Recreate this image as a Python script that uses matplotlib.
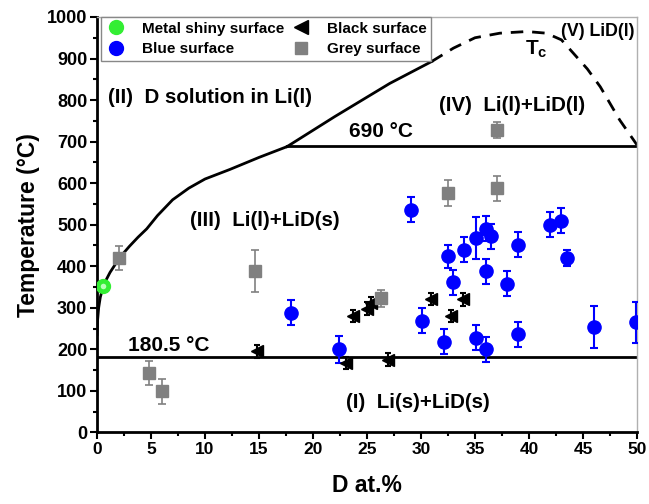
import numpy as np
import matplotlib.pyplot as plt
from matplotlib.ticker import MultipleLocator
from matplotlib.lines import Line2D

plt.rcParams['font.family'] = ['Liberation Sans', 'DejaVu Sans']
plt.rcParams['font.weight'] = 'bold'
plt.rcParams['axes.labelweight'] = 'bold'

# phase boundary: lower liquidus (solid)
liq_x = [0.0, 0.05, 0.15, 0.3, 0.5, 0.8, 1.2, 1.7, 2.3, 3.0, 3.8, 4.6, 5.6,
         7.0, 8.5, 10.0, 12.3, 15.0, 17.6]
liq_t = [235, 270, 300, 325, 345, 365, 385, 405, 427, 448, 470, 490, 522,
         560, 588, 610, 633, 662, 688]
# miscibility gap, solid part
gap_x = [17.6, 22.0, 27.1, 31.0]
gap_t = [688, 760, 840, 893]
# miscibility gap, dashed part
dash_x = [31.0, 33.0, 35.0, 37.3, 39.8, 41.6, 43.0, 44.1, 45.4, 46.6, 48.4, 50.0]
dash_t = [893, 925, 950, 961, 965, 961, 945, 913, 875, 832, 752, 692]

eutectic_t = 180.5
monotectic_t = 690
monotectic_x0 = 17.6

# samples
green_x = [0.55]
green_t = [352]

blue_x = [18.0, 22.4, 29.1, 30.1, 32.1, 32.5, 33.0, 34.0, 35.1, 35.1, 36.0,
          36.0, 36.0, 36.5, 38.0, 39.0, 39.0, 41.9, 43.0, 43.5, 46.0, 49.9]
blue_t = [288, 200, 536, 269, 218, 424, 361, 440, 468, 228, 490,
          388, 200, 472, 358, 452, 236, 500, 510, 420, 254, 265]
blue_err = [30, 32, 30, 30, 30, 28, 30, 30, 50, 30, 30,
            30, 30, 30, 30, 30, 30, 30, 30, 20, 50, 50]

black_x = [14.8, 23.1, 23.7, 25.0, 25.4, 26.9, 30.9, 32.8, 33.9]
black_t = [195, 167, 280, 298, 312, 175, 321, 280, 320]
black_err = [15, 15, 15, 15, 15, 15, 15, 15, 15]

grey_x = [2.0, 4.8, 6.0, 14.6, 26.3, 32.5, 37.0, 37.0]
grey_t = [419, 142, 99, 389, 323, 577, 728, 588]
grey_err = [29, 29, 30, 50, 20, 31, 20, 30]

xticks = list(range(0, 51, 5))
yticks = list(range(0, 1001, 100))

fig = plt.figure(figsize=(6.49, 5.04), dpi=100)
ax = fig.add_axes([0.1495, 0.1420, 0.8320, 0.8243])

ax.plot(liq_x, liq_t, color='black', lw=2)
ax.plot(gap_x, gap_t, color='black', lw=2)
ax.plot(dash_x, dash_t, color='black', lw=2, dashes=(4.5, 3.2))
ax.plot([0, 50], [eutectic_t, eutectic_t], color='black', lw=2)
ax.plot([monotectic_x0, 50], [monotectic_t, monotectic_t], color='black', lw=2)

ax.plot(green_x, green_t, 'o', ms=10, color='#33ee33', zorder=5)
ax.plot(green_x, green_t, 'o', ms=4, color='#b8ffb8', mec='none', zorder=6)
ax.errorbar(blue_x, blue_t, yerr=blue_err, fmt='o', ms=9.5, color='blue',
            ecolor='blue', elinewidth=1.5, capsize=3, capthick=1.5, zorder=4)
ax.errorbar(black_x, black_t, yerr=black_err, fmt='<', ms=9, color='black',
            ecolor='black', elinewidth=1.5, capsize=2.5, capthick=1.5, zorder=4)
ax.errorbar(grey_x, grey_t, yerr=grey_err, fmt='s', ms=8, color='#808080',
            ecolor='#808080', elinewidth=1.2, capsize=3, capthick=1.2, zorder=4)

# region labels
ax.text(1.0, 805, '(II)  D solution in Li(l)', fontsize=14.8, va='center')
ax.text(8.6, 511, '(III)  Li(l)+LiD(s)', fontsize=14.8, va='center')
ax.text(31.7, 786, '(IV)  Li(l)+LiD(l)', fontsize=14.8, va='center')
ax.text(43.0, 966, '(V) LiD(l)', fontsize=12.8, va='center')
ax.text(23.1, 73, '(I)  Li(s)+LiD(s)', fontsize=14.8, va='center')
ax.text(39.6, 922, r'T$_\mathregular{c}$', fontsize=15, va='center')
ax.text(23.3, 702, '690 °C', fontsize=15, va='bottom')
ax.text(2.9, 186, '180.5 °C', fontsize=15, va='bottom')

ax.set_xlim(0, 50)
ax.set_ylim(0, 1000)
ax.set_xticks(xticks)
ax.set_xticklabels([str(v) for v in xticks], fontweight='bold', fontsize=12.5)
ax.set_yticks(yticks)
ax.set_yticklabels([str(v) for v in yticks], fontweight='bold', fontsize=13)
ax.xaxis.set_minor_locator(MultipleLocator(2.5))
ax.yaxis.set_minor_locator(MultipleLocator(50))
ax.tick_params(which='major', direction='out', length=5, width=1.5, pad=2)
ax.tick_params(which='minor', direction='out', length=3, width=1.5)

for s in ['left', 'bottom']:
    ax.spines[s].set_linewidth(2)
    ax.spines[s].set_color('black')
for s in ['top', 'right']:
    ax.spines[s].set_linewidth(1)
    ax.spines[s].set_color('#b0b0b0')

ax.set_xlabel('D at.%', fontsize=16.5, labelpad=12)
ax.set_ylabel('Temperature (°C)', fontsize=16.5, labelpad=5)

handles = [
    Line2D([], [], ls='none', marker='o', ms=10, color='#33ee33'),
    Line2D([], [], ls='none', marker='o', ms=10, color='blue'),
    Line2D([], [], ls='none', marker='<', ms=10, color='black'),
    Line2D([], [], ls='none', marker='s', ms=8, color='#808080'),
]
labels = ['Metal shiny surface', 'Blue surface', 'Black surface', 'Grey surface']
leg = ax.legend(handles, labels, ncol=2, loc='upper left',
                bbox_to_anchor=(0.007, 1.0), prop={'size': 11, 'weight': 'bold'},
                fancybox=False, edgecolor='#888888', framealpha=1,
                borderaxespad=0, handletextpad=1.0, columnspacing=0.4,
                handlelength=1.4, labelspacing=0.45, borderpad=0.3)
leg.get_frame().set_linewidth(1)

plt.savefig('out.png', dpi=100)
